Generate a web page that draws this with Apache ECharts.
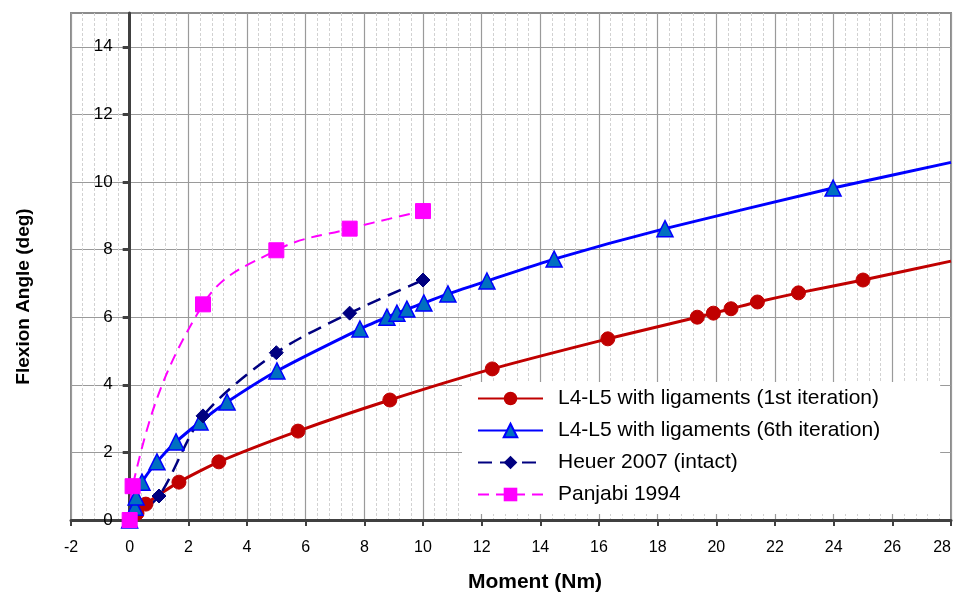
<!DOCTYPE html>
<html>
<head>
<meta charset="utf-8">
<script src="https://cdn.jsdelivr.net/npm/echarts@6/dist/echarts.min.js"></script>
<style>
  html, body { margin: 0; padding: 0; background: #fff; }
  #flexion-container { width: 957px; height: 594px; }
</style>
</head>
<body>
<div id="flexion-container"></div>
<script type="text/javascript">
// moment (Nm) / flexion angle (deg)
var iter1X = [0, 0.25, 0.55, 1.68, 3.04, 5.74, 8.87, 12.36, 16.3, 19.35, 19.9, 20.5, 21.4, 22.8, 25.0, 28.0];
var iter1Y = [0, 0.2, 0.47, 1.12, 1.72, 2.63, 3.55, 4.47, 5.36, 6.0, 6.12, 6.25, 6.45, 6.72, 7.1, 7.66];
var iter6X = [0, 0.18, 0.22, 0.42, 0.93, 1.58, 2.40, 3.32, 5.02, 7.85, 8.77, 9.11, 9.45, 10.03, 10.85, 12.18, 14.47, 18.25, 23.98, 28.0];
var iter6Y = [0, 0.38, 0.68, 1.12, 1.72, 2.31, 2.9, 3.49, 4.41, 5.65, 6.0, 6.12, 6.24, 6.42, 6.69, 7.07, 7.72, 8.62, 9.82, 10.58];
var heuerX = [0, 1.0, 2.5, 5.0, 7.5, 10.0];
var heuerY = [0, 0.71, 3.08, 4.95, 6.12, 7.1];
var panjabiX = [0, 0.1, 2.5, 5.0, 7.5, 10.0];
var panjabiY = [0, 1.0, 6.38, 7.98, 8.62, 9.14];
var yTicks = [0, 2, 4, 6, 8, 10, 12, 14];
var seriesNames = ['L4-L5 with ligaments (1st iteration)', 'L4-L5 with ligaments (6th iteration)', 'Heuer 2007 (intact)', 'Panjabi 1994'];

var font = 'Liberation Sans, Arial, sans-serif';

// last point of the model curves runs on to the plot edge without a marker
function pairs(xs, ys, openEnd) {
    return xs.map(function (x, i) {
        if (openEnd && i === xs.length - 1) {
            return { value: [x, ys[i]], symbol: 'none' };
        }
        return [x, ys[i]];
    });
}

var dom = document.getElementById("flexion-container");
var myChart = echarts.init(dom);
var option = {
    animation: false,
    grid: {
        left: 71, right: 6, top: 13, bottom: 74,
        outerBoundsMode: 'none',
        containLabel: false,
        show: true, borderColor: '#8c8c8c', borderWidth: 2
    },
    legend: {
        orient: 'vertical',
        left: 462, top: 382,
        backgroundColor: '#fff',
        padding: [6, 60, 9, 15],
        itemWidth: 65, itemHeight: 17, itemGap: 11,
        textStyle: { fontSize: 21, color: '#000', fontFamily: font, padding: [0, 0, 0, 10] },
        data: seriesNames
    },
    xAxis: {
        type: 'value',
        min: -2, max: 28, interval: 2,
        name: 'Moment (Nm)',
        nameLocation: 'middle',
        nameGap: 52,
        nameTextStyle: { fontSize: 21, fontWeight: 'bold', color: '#000', fontFamily: font, padding: [0, 0, 0, 48] },
        axisLine: { onZero: false, lineStyle: { color: '#404040', width: 3 } },
        axisTick: { show: true, length: 6, lineStyle: { color: '#404040', width: 2 } },
        axisLabel: { fontSize: 16, color: '#000', fontFamily: font, margin: 20, alignMaxLabel: 'right' },
        splitLine: { show: true, lineStyle: { color: '#9a9a9a', width: 1.2 } },
        minorTick: { show: false, splitNumber: 5 },
        minorSplitLine: { show: true, lineStyle: { color: '#d2d2d2', width: 1, type: [3, 2] } }
    },
    yAxis: {
        type: 'value',
        min: 0, max: 15, interval: 2,
        offset: -58.7,
        name: 'Flexion Angle (deg)',
        nameLocation: 'middle',
        nameGap: 96,
        nameTextStyle: { fontSize: 19, fontWeight: 'bold', color: '#000', fontFamily: font, padding: [0, 60, 0, 0] },
        axisLine: { onZero: false, lineStyle: { color: '#404040', width: 3 } },
        axisTick: { show: true, length: 7, customValues: yTicks, lineStyle: { color: '#404040', width: 3 } },
        axisLabel: { fontSize: 17, color: '#000', fontFamily: font, margin: 17, customValues: yTicks },
        splitLine: { show: true, lineStyle: { color: '#9a9a9a', width: 1.2 } }
    },
    series: [{
        name: seriesNames[0],
        type: 'line',
        smooth: 0.2,
        data: pairs(iter1X, iter1Y, true),
        symbol: 'circle', symbolSize: 14,
        lineStyle: { color: '#c00000', width: 3 },
        itemStyle: { color: '#c00000', borderColor: '#c00000' }
    }, {
        name: seriesNames[1],
        type: 'line',
        smooth: 0.2,
        data: pairs(iter6X, iter6Y, true),
        symbol: 'triangle', symbolSize: 16,
        lineStyle: { color: '#0000ff', width: 3 },
        itemStyle: { color: '#0070c0', borderColor: '#0000ff', borderWidth: 1.5 }
    }, {
        name: seriesNames[2],
        type: 'line',
        smooth: 0.3,
        data: pairs(heuerX, heuerY, false),
        symbol: 'diamond', symbolSize: 14,
        lineStyle: { color: '#000080', width: 2.5, type: [14, 8] },
        itemStyle: { color: '#000080', borderColor: '#000080' }
    }, {
        name: seriesNames[3],
        type: 'line',
        smooth: 0.4,
        data: pairs(panjabiX, panjabiY, false),
        symbol: 'rect', symbolSize: 15,
        lineStyle: { color: '#ff00ff', width: 2, type: [11, 7] },
        itemStyle: { color: '#ff00ff', borderColor: '#ff00ff' }
    }]
};
if (option && typeof option === "object") {
    myChart.setOption(option, true);
}
</script>
</body>
</html>
